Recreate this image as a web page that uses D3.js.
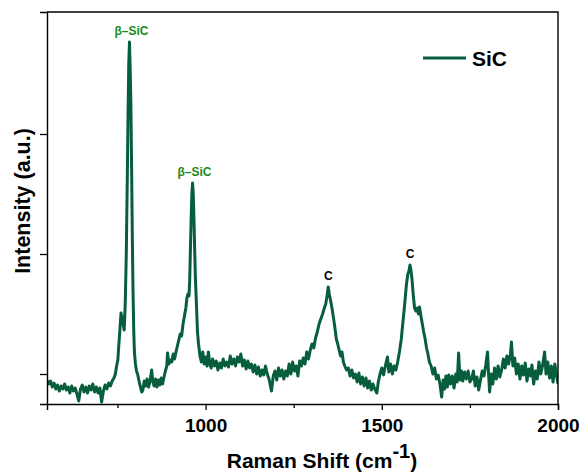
<!DOCTYPE html>
<html>
<head>
<meta charset="utf-8">
<script src="https://cdn.jsdelivr.net/npm/d3@7"></script>
<style>
    body { margin: 0; background: #fff; }
    svg text { font-family: Arial, "Liberation Sans", sans-serif; font-weight: bold; }
</style>
</head>
<body>
<div id="chart"></div>
<script>
// Raman spectrum of SiC, [shift (cm-1), intensity (a.u.)]
const spectrum = [
    [550,240],[555,200],[560,230],[565,170],[570,210],[575,150],[580,190],[585,130],[590,180],[595,150],
    [600,200],[605,140],[610,170],[615,110],[620,180],[625,130],[630,160],[635,100],[640,30],[645,150],
    [650,190],[655,120],[660,170],[665,110],[670,180],[675,140],[680,200],[685,120],[690,170],[695,110],
    [700,160],[705,20],[710,130],[715,190],[720,150],[725,210],[730,180],[735,230],[740,260],[744,300],
    [747,370],[751,440],[754,600],[757,750],[760,910],[763,860],[766,800],[769,740],[772,1000],[775,1500],
    [778,2300],[780,2900],[782,3400],[784,3620],[786,3350],[788,3000],[790,2400],[792,1700],[794,1150],[796,750],
    [798,520],[801,400],[804,330],[807,300],[810,250],[813,200],[816,160],[819,120],[822,140],[826,230],
    [830,180],[834,250],[838,170],[842,220],[847,340],[850,230],[854,180],[858,250],[862,170],[866,240],
    [870,190],[874,260],[878,200],[882,270],[886,330],[890,380],[892,510],[896,400],[900,440],[904,420],
    [908,500],[912,450],[916,520],[920,580],[924,640],[928,700],[932,680],[936,800],[940,880],[944,960],
    [947,1060],[950,1100],[953,1080],[955,1250],[957,1550],[959,1850],[961,2100],[963,2210],[965,2100],[967,1850],
    [969,1550],[971,1270],[974,1000],[977,720],[980,600],[984,480],[988,420],[992,520],[996,400],[1000,470],
    [1004,380],[1008,520],[1012,400],[1016,360],[1020,450],[1025,380],[1030,430],[1035,340],[1040,410],[1045,360],
    [1050,450],[1055,380],[1060,420],[1065,370],[1070,480],[1075,400],[1080,450],[1085,380],[1090,470],[1095,420],
    [1100,500],[1105,380],[1110,440],[1115,350],[1120,430],[1125,360],[1130,400],[1135,320],[1140,390],[1145,300],
    [1150,370],[1155,280],[1160,340],[1165,290],[1170,380],[1175,300],[1180,250],[1187,130],[1192,280],[1197,330],
    [1202,240],[1207,360],[1212,280],[1217,340],[1222,250],[1227,330],[1232,280],[1237,400],[1242,300],[1247,420],
    [1252,330],[1257,380],[1262,280],[1267,430],[1272,380],[1277,460],[1282,400],[1287,520],[1292,450],[1297,540],
    [1302,600],[1307,560],[1312,660],[1317,720],[1322,800],[1327,850],[1332,900],[1337,960],[1341,1000],[1345,1090],
    [1348,1170],[1351,1100],[1355,1030],[1359,950],[1363,860],[1367,760],[1371,650],[1375,600],[1379,540],[1383,480],
    [1387,520],[1391,420],[1395,380],[1400,340],[1405,360],[1410,280],[1415,340],[1420,260],[1425,300],[1430,220],
    [1435,310],[1440,200],[1445,270],[1450,180],[1455,260],[1460,160],[1465,230],[1470,140],[1475,200],[1480,150],
    [1486,110],[1490,220],[1495,300],[1500,360],[1505,290],[1510,380],[1516,470],[1520,320],[1525,400],[1530,300],
    [1535,380],[1540,340],[1545,420],[1550,520],[1555,640],[1560,820],[1565,1000],[1570,1200],[1574,1300],[1577,1330],
    [1580,1390],[1583,1330],[1586,1240],[1589,1100],[1593,960],[1597,930],[1601,960],[1604,900],[1607,970],[1611,880],
    [1615,800],[1619,720],[1623,650],[1627,560],[1631,500],[1635,420],[1640,380],[1645,300],[1650,360],[1655,250],
    [1660,290],[1665,200],[1670,70],[1674,240],[1678,150],[1682,280],[1686,170],[1690,290],[1695,200],[1700,280],
    [1705,160],[1710,300],[1714,220],[1718,510],[1722,240],[1726,330],[1730,230],[1735,320],[1740,250],[1745,330],
    [1750,220],[1755,250],[1760,330],[1765,180],[1770,270],[1775,140],[1780,240],[1785,330],[1790,280],[1795,390],
    [1800,520],[1803,300],[1806,120],[1810,300],[1815,200],[1820,360],[1825,250],[1830,380],[1835,270],[1840,340],
    [1845,450],[1850,360],[1855,480],[1860,400],[1865,500],[1868,620],[1872,380],[1877,460],[1882,300],[1887,400],
    [1892,250],[1897,380],[1902,290],[1907,410],[1912,230],[1917,350],[1922,280],[1926,390],[1931,200],[1936,330],
    [1941,250],[1946,420],[1951,300],[1956,380],[1962,520],[1966,300],[1971,420],[1976,260],[1981,380],[1986,220],
    [1991,400],[1996,280],[2000,200]
];

const xMajorTicks = [1000, 1500, 2000];
const xMinorTicks = [750, 1250, 1750];
const yTicks = [300, 1500, 2700];

// peak annotations: [shift, intensity at peak, label, colour]
const peakLabels = [
    [784, 3620, 'β–SiC', '#1a8a1a'],
    [963, 2210, 'β–SiC', '#1a8a1a'],
    [1348, 1170, 'C', '#000'],
    [1580, 1390, 'C', '#000']
];

const seriesName = 'SiC';
const lineColor = '#075e3d';

const width = 582, height = 474;
const margin = { top: 12, right: 24, bottom: 70, left: 47 };

const svg = d3.select('#chart').append('svg')
    .attr('width', width)
    .attr('height', height);

const x = d3.scaleLinear().domain([550, 2000]).range([margin.left, width - margin.right]);
const y = d3.scaleLinear().domain([0, 3920]).range([height - margin.bottom, margin.top]);

// clip the spectrum to the frame
svg.append('clipPath').attr('id', 'plot-clip')
    .append('rect')
    .attr('x', x.range()[0]).attr('y', y.range()[1])
    .attr('width', x.range()[1] - x.range()[0])
    .attr('height', y.range()[0] - y.range()[1]);

const line = d3.line().x(d => x(d[0])).y(d => y(d[1]));

svg.append('path')
    .datum(spectrum)
    .attr('clip-path', 'url(#plot-clip)')
    .attr('d', line)
    .attr('fill', 'none')
    .attr('stroke', lineColor)
    .attr('stroke-width', 3)
    .attr('stroke-linejoin', 'round');

// axes
const xAxis = svg.append('g')
    .attr('transform', `translate(0,${y.range()[0]})`)
    .call(d3.axisBottom(x).tickValues(xMajorTicks).tickSize(6).tickPadding(9).tickFormat(d3.format('d')));

svg.append('g')
    .attr('transform', `translate(0,${y.range()[0]})`)
    .call(d3.axisBottom(x).tickValues(xMinorTicks).tickSize(4).tickFormat(''))
    .call(g => g.select('.domain').remove());

svg.append('g')
    .attr('transform', `translate(${x.range()[0]},0)`)
    .call(d3.axisLeft(y).tickValues(yTicks).tickSize(7).tickFormat(''));

svg.selectAll('.domain').attr('stroke', '#000').attr('stroke-width', 1.4);
svg.selectAll('.tick line').attr('stroke', '#000').attr('stroke-width', 1.3);
xAxis.selectAll('.tick text')
    .attr('fill', '#000')
    .style('font-size', '19px');

// top and right sides of the frame
svg.append('path')
    .attr('d', `M${x.range()[0]},${y.range()[1]}H${x.range()[1]}V${y.range()[0]}`)
    .attr('fill', 'none')
    .attr('stroke', '#000')
    .attr('stroke-width', 1.4);

// axis titles
const xTitle = svg.append('text')
    .attr('x', 322)
    .attr('y', 468)
    .attr('text-anchor', 'middle')
    .style('font-size', '21px');
xTitle.append('tspan').text('Raman Shift  (cm');
xTitle.append('tspan').attr('dy', -10).style('font-size', '20px').text('-1');
xTitle.append('tspan').attr('dy', 10).text(')');

svg.append('text')
    .attr('transform', 'translate(30,201) rotate(-90)')
    .attr('text-anchor', 'middle')
    .style('font-size', '21.5px')
    .text('Intensity (a.u.)');

// peak labels
svg.selectAll('.peak-label')
    .data(peakLabels)
    .join('text')
    .attr('class', 'peak-label')
    .attr('x', d => x(d[0]) + (d[2] === 'C' ? 0 : 2))
    .attr('y', d => y(d[1]) - 7)
    .attr('text-anchor', 'middle')
    .attr('fill', d => d[3])
    .style('font-size', '12px')
    .text(d => d[2]);

// legend
const legend = svg.append('g').attr('transform', 'translate(423,58)');
legend.append('line')
    .attr('x1', 0).attr('x2', 43)
    .attr('stroke', lineColor)
    .attr('stroke-width', 3);
legend.append('text')
    .attr('x', 49)
    .attr('y', 7.5)
    .style('font-size', '21px')
    .text(seriesName);
</script>
</body>
</html>
